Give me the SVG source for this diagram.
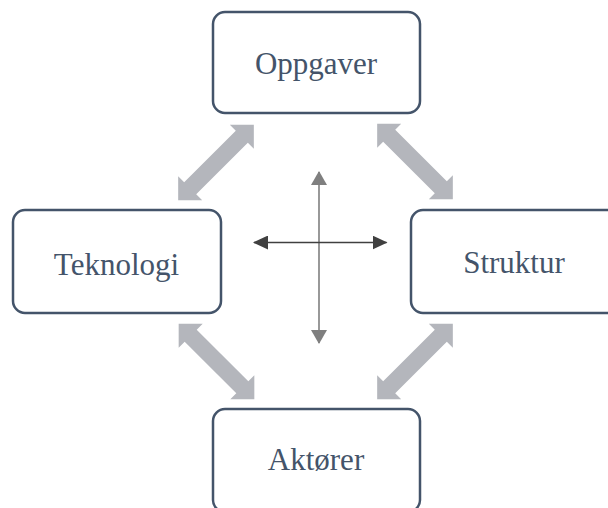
<svg xmlns="http://www.w3.org/2000/svg" width="608" height="508" viewBox="0 0 608 508">
  <defs>
    <style>
      .box { fill: #FFFFFF; stroke: #44546A; stroke-width: 2.5; }
      .label { font-size: 31px; fill: #44546A; text-anchor: middle; }
      .fat { fill: #B4B6BC; }
      .axis-v { stroke: #7F7F7F; stroke-width: 1.6; fill: none; }
      .axis-h { stroke: #404040; stroke-width: 1.6; fill: none; }
    </style>
    <!-- thick double-headed arrow along the x axis, centred on the origin -->
    <polygon id="fatArrow" points="-53.5,0 -36.5,-17 -36.5,-8.5 36.5,-8.5 36.5,-17 53.5,0 36.5,17 36.5,8.5 -36.5,8.5 -36.5,17"/>
    <marker id="headV" viewBox="0 0 14 16" refX="13" refY="8" markerWidth="14" markerHeight="16" markerUnits="userSpaceOnUse" orient="auto-start-reverse">
      <path d="M0,0 L14,8 L0,16 Z" fill="#7F7F7F"/>
    </marker>
    <marker id="headH" viewBox="0 0 15 14" refX="14" refY="7" markerWidth="15" markerHeight="14" markerUnits="userSpaceOnUse" orient="auto-start-reverse">
      <path d="M0,0 L15,7 L0,14 Z" fill="#404040"/>
    </marker>
  </defs>

  <rect width="608" height="508" fill="#FFFFFF"/>

  <g id="connectors">
    <use href="#fatArrow" class="fat" transform="translate(216,162.5) rotate(-45)"/>
    <use href="#fatArrow" class="fat" transform="translate(415,161.5) rotate(45)"/>
    <use href="#fatArrow" class="fat" transform="translate(216.5,361.5) rotate(45)"/>
    <use href="#fatArrow" class="fat" transform="translate(415,361.5) rotate(-45)"/>
    <line class="axis-v" x1="319" y1="172" x2="319" y2="343" marker-start="url(#headV)" marker-end="url(#headV)"/>
    <line class="axis-h" x1="254" y1="242.5" x2="386.5" y2="242.5" marker-start="url(#headH)" marker-end="url(#headH)"/>
  </g>

  <g id="oppgaver" font-family="'Liberation Serif', 'DejaVu Serif', serif">
    <rect class="box" x="213" y="12" width="207" height="101" rx="12"/>
    <text class="label" x="316" y="74">Oppgaver</text>
  </g>

  <g id="teknologi" font-family="'Liberation Serif', 'DejaVu Serif', serif">
    <rect class="box" x="13" y="210" width="208" height="103" rx="12"/>
    <text class="label" x="116.5" y="275">Teknologi</text>
  </g>

  <g id="struktur" font-family="'Liberation Serif', 'DejaVu Serif', serif">
    <rect class="box" x="411" y="210" width="208" height="103" rx="12"/>
    <text class="label" x="514" y="273">Struktur</text>
  </g>

  <g id="aktorer" font-family="'Liberation Serif', 'DejaVu Serif', serif">
    <rect class="box" x="213" y="409" width="207" height="103" rx="12"/>
    <text class="label" x="316" y="470">Aktører</text>
  </g>
</svg>
